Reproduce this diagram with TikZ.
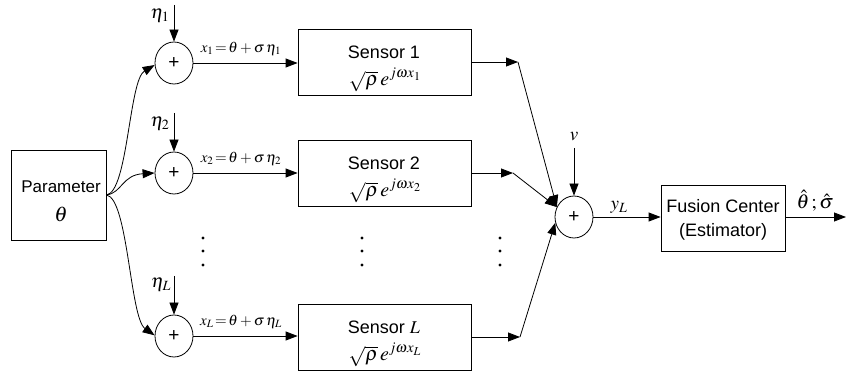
\documentclass[tikz,border=0pt]{standalone}
\usepackage{mathptmx}
\usepackage{fontspec}
\setmainfont{Liberation Sans}
\usetikzlibrary{arrows.meta,shapes.geometric}
\begin{document}
\begin{tikzpicture}[x=1pt,y=-1pt,
  every node/.style={font=\fontsize{17}{20}\selectfont},
  big/.style={font=\fontsize{18}{21}\selectfont},
  frm/.style={font=\fontsize{20}{23}\selectfont},
  box/.style={draw, line width=0.8pt, inner sep=0pt},
  sum/.style={draw, ellipse, line width=0.8pt, minimum width=38pt, minimum height=42pt, inner sep=0pt, font=\fontsize{19}{20}\selectfont},
  arr/.style={line width=0.8pt, -{Triangle[length=12pt,width=9pt]}},
  lab/.style={inner sep=0pt, font=\fontsize{15}{18}\selectfont},
  eta/.style={inner sep=0pt, font=\fontsize{19}{22}\selectfont},
  dot/.style={circle, fill, inner sep=0pt, minimum size=3.4pt}]
\useasboundingbox (0,0) rectangle (846,379);

% parameter
\node[box, minimum width=95pt, minimum height=90pt] (par) at (58.5,195) {};
\node (parT) at (61,187) {Parameter};
\node[font=\fontsize{21}{24}\selectfont] (parTh) at (61,214) {$\theta$};

% summing junctions
\node[sum] (c1) at (174,63) {+};
\node[sum] (c2) at (174,173) {+};
\node[sum] (cL) at (174,336) {+};

% noise inputs
\coordinate (e1) at (174,5);
\coordinate (e2) at (174,113);
\coordinate (eL) at (174,276);
\draw[arr] (e1) -- (c1.north);
\draw[arr] (e2) -- (c2.north);
\draw[arr] (eL) -- (cL.north);
\node[eta] (n1) at (160,16) {$\eta_1$};
\node[eta] (n2) at (160,124) {$\eta_2$};
\node[eta] (nL) at (161,285) {$\eta_L$};

% curves from parameter
\draw[arr] (par.east) .. controls (128,192) and (129,80) .. (c1.186);
\draw[arr] (par.east) .. controls (122,193) and (122,175) .. (c2.180);
\draw[arr] (par.east) .. controls (128,198) and (130,318) .. (cL.178);

% sensors
\node[box, minimum width=173pt, minimum height=66pt] (s1) at (384.5,62) {};
\node[box, minimum width=173pt, minimum height=66pt] (s2) at (384.5,173) {};
\node[box, minimum width=173pt, minimum height=66pt] (sL) at (384.5,337) {};
\node[big] (s1t) at (384,52) {Sensor 1};
\node[frm] (s1f) at (385,80) {$\sqrt{\rho}\,e^{j\omega x_1}$};
\node[big] (s2t) at (384,163) {Sensor 2};
\node[frm] (s2f) at (385,191) {$\sqrt{\rho}\,e^{j\omega x_2}$};
\node[big] (sLt) at (384,327) {Sensor $L$};
\node[frm] (sLf) at (385,355) {$\sqrt{\rho}\,e^{j\omega x_L}$};

% junction to sensor arrows
\draw[arr] (c1.east) -- (s1.west |- c1.east);
\draw[arr] (c2.east) -- (s2.west |- c2.east);
\draw[arr] (cL.east) -- (sL.west |- cL.east);
\node[lab] (x1) at (241,49) {$x_1\!=\!\theta+\sigma\,\eta_1$};
\node[lab] (x2) at (241,159) {$x_2\!=\!\theta+\sigma\,\eta_2$};
\node[lab] (xL) at (241,322) {$x_L\!=\!\theta+\sigma\,\eta_L$};

% dots
\node[dot] (d11) at (203,238) {}; \node[dot] (d12) at (203,251) {}; \node[dot] (d13) at (203,265) {};
\node[dot] (d21) at (362,238) {}; \node[dot] (d22) at (362,251) {}; \node[dot] (d23) at (362,265) {};
\node[dot] (d31) at (500,238) {}; \node[dot] (d32) at (500,251) {}; \node[dot] (d33) at (500,265) {};

% fusion sum
\node[sum] (fs) at (574,217) {+};
\coordinate (j1) at (518,62);
\coordinate (j2) at (513,173);
\coordinate (jL) at (520,337);
\draw[arr] (s1.east) -- (j1);
\draw[arr] (s2.east) -- (j2);
\draw[arr] (sL.east) -- (jL);
\draw[arr] (j1) -- (fs.150);
\draw[arr] (j2) -- (fs.150);
\draw[arr] (jL) -- (fs.197);
\coordinate (vin) at (574,148);
\draw[arr] (vin) -- (fs.north);
\node[eta] (v) at (574,137) {$v$};

% fusion center
\node[box, minimum width=124pt, minimum height=66pt] (fc) at (723,218) {};
\node[big] (fct) at (723,206) {Fusion Center};
\node[big] (fce) at (723,232) {(Estimator)};
\draw[arr] (fs.east) -- (fc.west |- fs.east);
\node[eta] (yL) at (619,207) {$y_L$};
\coordinate (out) at (846,217);
\draw[arr] (fc.east |- out) -- (out);
\node[inner sep=0pt, font=\fontsize{20}{23}\selectfont] (est) at (815,201) {$\hat{\theta}\,;\hat{\sigma}$};
\end{tikzpicture}
\end{document}
